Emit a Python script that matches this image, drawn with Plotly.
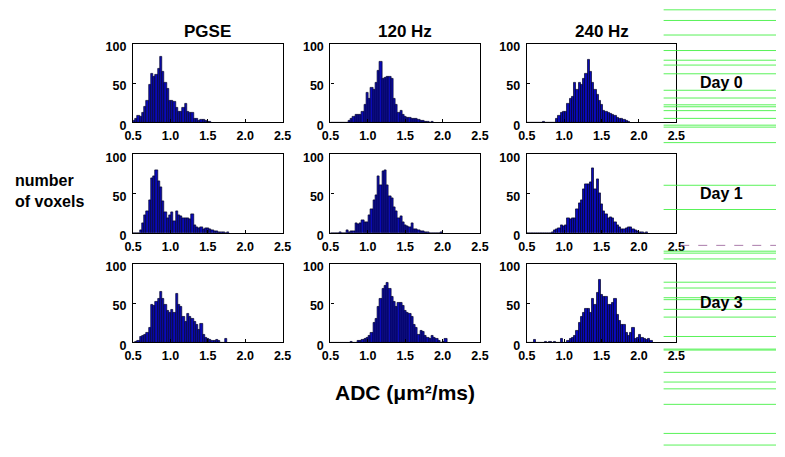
import plotly.graph_objects as go
from plotly.subplots import make_subplots

# histogram bins: left edge 0.5, width 0.03 (counts listed from the first bin)
BIN_LEFT = 0.5
BIN_WIDTH = 0.03

PGSE_DAY0 = [2, 4, 8, 7, 12, 20, 28, 48, 62, 58, 60, 68, 84, 64, 50, 43, 28, 28, 26, 18,
             13, 14, 18, 24, 13, 12, 12, 5, 4, 2, 3, 3, 2, 1, 1]
HZ120_DAY0 = [0, 0, 0, 0, 0, 0, 0, 0, 2, 4, 7, 9, 9, 10, 14, 22, 38, 30, 44, 42,
              50, 65, 77, 56, 57, 58, 58, 56, 30, 22, 12, 15, 10, 7, 6, 6, 5, 4, 4, 3,
              2, 2, 1, 1, 0, 1]
HZ240_DAY0 = [0, 0, 0, 0, 0, 0, 0, 1, 0, 0, 0, 0, 0, 4, 8, 12, 13, 14, 24, 30,
              32, 50, 42, 50, 48, 56, 62, 80, 64, 50, 42, 35, 28, 22, 15, 14, 12, 11, 10, 8,
              6, 5, 4, 3, 2, 1]

PGSE_DAY1 = [0, 0, 0, 3, 12, 22, 28, 42, 70, 72, 80, 66, 58, 40, 26, 18, 22, 26, 15, 27,
             22, 21, 18, 18, 19, 17, 23, 10, 7, 6, 7, 5, 6, 6, 4, 3, 2, 2, 1, 1,
             1, 0, 1]
HZ120_DAY1 = [0, 0, 0, 0, 1, 0, 0, 3, 1, 2, 2, 12, 11, 12, 16, 14, 14, 22, 30, 42,
              48, 72, 60, 78, 80, 60, 46, 44, 32, 28, 18, 21, 13, 10, 8, 7, 12, 5, 4, 3,
              2, 2, 1, 1, 0, 0, 0, 0, 0, 1]
HZ240_DAY1 = [0, 0, 0, 0, 0, 0, 0, 0, 0, 0, 0, 1, 3, 4, 6, 9, 8, 10, 18, 17,
              18, 19, 30, 38, 42, 55, 62, 62, 64, 82, 56, 68, 50, 36, 28, 24, 18, 20, 19, 14,
              10, 7, 5, 4, 6, 7, 7, 5, 3, 2, 1, 1, 0, 1]

PGSE_DAY3 = [0, 1, 2, 7, 8, 9, 12, 18, 48, 46, 52, 56, 64, 55, 48, 40, 38, 42, 38, 62,
             48, 45, 33, 26, 36, 32, 30, 26, 22, 16, 24, 10, 6, 4, 3, 2, 2, 3, 2, 0,
             0, 4]
HZ120_DAY3 = [0, 0, 0, 0, 0, 0, 0, 0, 0, 1, 0, 0, 2, 2, 3, 4, 6, 8, 12, 25,
              30, 45, 55, 68, 72, 76, 68, 58, 52, 45, 50, 50, 47, 40, 38, 36, 32, 22, 18, 10,
              15, 14, 8, 6, 5, 8, 6, 5, 2, 0, 1, 4]
HZ240_DAY3 = [0, 0, 0, 3, 0, 0, 0, 0, 1, 0, 1, 0, 1, 0, 0, 4, 0, 0, 2, 5,
              6, 8, 15, 25, 32, 38, 43, 43, 37, 55, 48, 63, 80, 60, 58, 58, 48, 48, 50, 55,
              35, 28, 22, 22, 12, 8, 12, 18, 5, 6, 10, 6, 4, 3, 4, 2]

COLUMN_TITLES = ["PGSE", "120 Hz", "240 Hz"]
ROW_LABELS = ["Day 0", "Day 1", "Day 3"]
PANELS = [
    [PGSE_DAY0, HZ120_DAY0, HZ240_DAY0],
    [PGSE_DAY1, HZ120_DAY1, HZ240_DAY1],
    [PGSE_DAY3, HZ120_DAY3, HZ240_DAY3],
]
X_TICKS = [0.5, 1.0, 1.5, 2.0, 2.5]
Y_TICKS = [0, 50, 100]

# scan artefact lines down the right edge (pixel rows)
GREEN_LINE_Y = [6, 17, 32, 48, 58, 63, 72, 89, 97, 104, 106, 110, 118, 125, 127, 143,
                187, 212, 255, 257, 263, 287, 293, 303, 305, 315, 323, 343, 356, 357,
                380, 390, 397, 413, 443, 455]

W, H = 785, 457
COL_LEFT = [127, 329, 530]
COL_W = 153
ROW_TOP = [41, 155, 268]
ROW_H = 81


def px(x):
    return x / W


def py(y):
    return 1 - y / H


FONT = "Arial, Liberation Sans, sans-serif"

fig = make_subplots(rows=3, cols=3)

for r in range(3):
    for c in range(3):
        counts = PANELS[r][c]
        centers = [BIN_LEFT + BIN_WIDTH * (i + 0.5) for i in range(len(counts))]
        fig.add_trace(go.Bar(
            x=centers, y=counts, width=BIN_WIDTH,
            marker=dict(color="#0a0ab8", line=dict(color="#000028", width=0.7)),
            showlegend=False,
        ), row=r + 1, col=c + 1)
        fig.update_xaxes(
            domain=[px(COL_LEFT[c]), px(COL_LEFT[c] + COL_W)],
            range=[0.5, 2.5], tickvals=X_TICKS, tickformat=".1f",
            row=r + 1, col=c + 1)
        fig.update_yaxes(
            domain=[py(ROW_TOP[r] + ROW_H), py(ROW_TOP[r])],
            range=[0, 100], tickvals=Y_TICKS,
            row=r + 1, col=c + 1)

tick_font = dict(family=FONT, size=12.5, color="black", weight="bold")
fig.update_xaxes(showline=True, mirror=True, linecolor="black", linewidth=1.3,
                 ticks="inside", ticklen=3, tickcolor="black", showgrid=False,
                 zeroline=False, tickfont=tick_font, ticklabelstandoff=2)
fig.update_yaxes(showline=True, mirror=True, linecolor="black", linewidth=1.3,
                 ticks="inside", ticklen=3, tickcolor="black", showgrid=False,
                 zeroline=False, tickfont=tick_font, ticklabelstandoff=3,
                 ticklabelshift=3)

annotations = []
for c, t in enumerate(COLUMN_TITLES):
    annotations.append(dict(text="<b>%s</b>" % t, x=px(COL_LEFT[c] + COL_W / 2), y=py(28),
                            xref="paper", yref="paper", showarrow=False,
                            xanchor="center", yanchor="middle",
                            font=dict(family=FONT, size=17, color="black")))
for r, t in enumerate(ROW_LABELS):
    annotations.append(dict(text="<b>%s</b>" % t, x=px(705), y=py(ROW_TOP[r] + 40),
                            xref="paper", yref="paper", showarrow=False,
                            xanchor="left", yanchor="middle",
                            font=dict(family=FONT, size=16, color="black")))
annotations.append(dict(text="<b>number<br>of voxels</b>", x=px(4), y=py(193),
                        xref="paper", yref="paper", showarrow=False,
                        xanchor="left", yanchor="middle", align="left",
                        font=dict(family=FONT, size=16, color="black")))
annotations.append(dict(text="<b>ADC (μm²/ms)</b>", x=px(405), y=py(401),
                        xref="paper", yref="paper", showarrow=False,
                        xanchor="center", yanchor="middle",
                        font=dict(family=FONT, size=21, color="black")))

shapes = [dict(type="line", xref="paper", yref="paper", x0=px(670), x1=1,
               y0=py(y), y1=py(y), line=dict(color="rgba(60,240,60,0.85)", width=1),
               layer="above") for y in GREEN_LINE_Y]
shapes.append(dict(type="line", xref="paper", yref="paper", x0=px(687), x1=1,
                   y0=py(249), y1=py(249),
                   line=dict(color="rgba(150,90,150,0.8)", width=1, dash="dash"), layer="above"))

fig.update_layout(
    width=W, height=H,
    margin=dict(l=0, r=0, t=0, b=0),
    paper_bgcolor="white", plot_bgcolor="white",
    bargap=0,
    annotations=annotations,
    shapes=shapes,
)

# drop the browser's default body margin so the figure fills the window exactly
fig.write_html("out.html", config={"displayModeBar": False},
               post_script="document.body.style.margin='0';document.body.style.overflow='hidden';")
